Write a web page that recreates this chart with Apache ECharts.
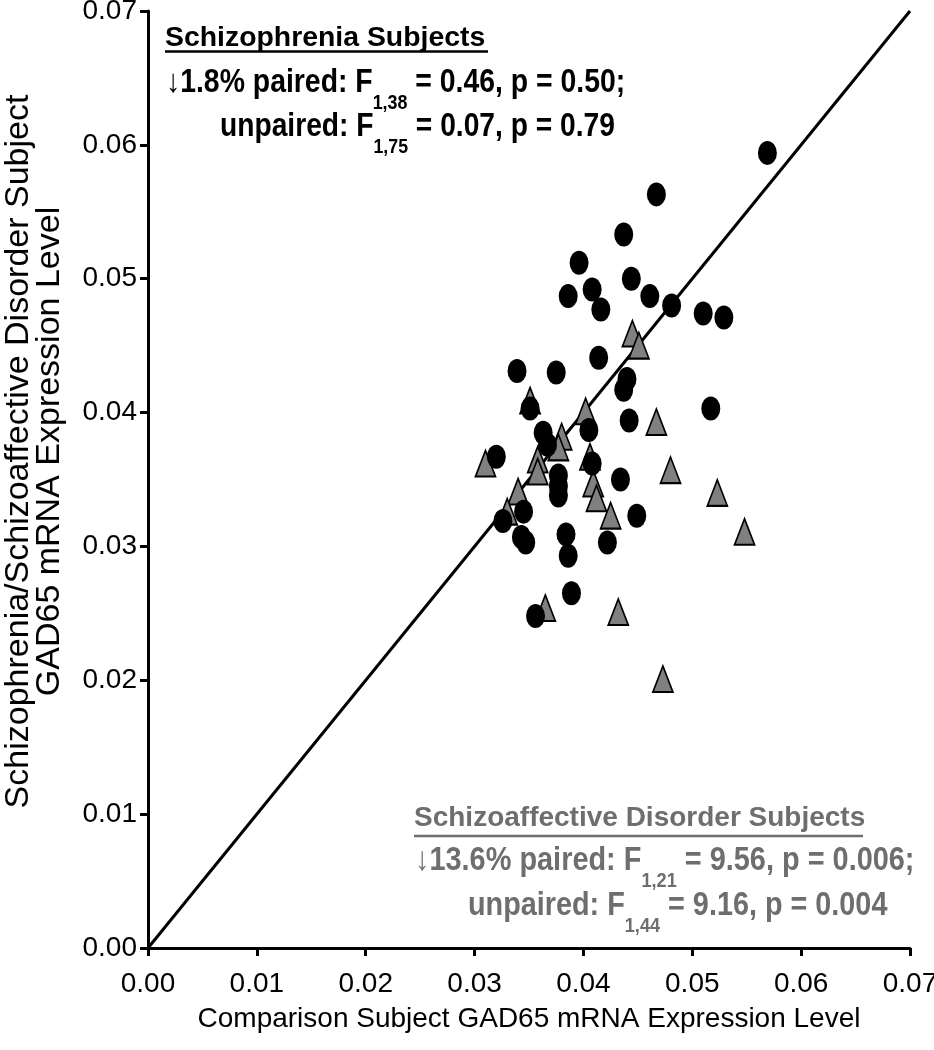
<!DOCTYPE html>
<html><head><meta charset="utf-8">
<script src="https://cdn.jsdelivr.net/npm/echarts@6/dist/echarts.min.js"></script>
<style>html,body{margin:0;padding:0;background:#fff}#chart{width:934px;height:1050px}</style>
</head><body><div id="chart"></div>
<script>
// Schizophrenia subjects: [comparison level, patient level]
const schizophreniaPairs = [
  [0.0569,0.0594],[0.0467,0.0563],[0.0437,0.0533],[0.0396,0.0512],[0.0386,0.0487],
  [0.0408,0.0492],[0.0416,0.0477],[0.0444,0.0500],[0.0461,0.0487],[0.0481,0.0480],
  [0.0510,0.0474],[0.0529,0.0471],[0.0414,0.0441],[0.0339,0.0431],[0.0375,0.0430],
  [0.0440,0.0425],[0.0437,0.0417],[0.0351,0.0403],[0.0442,0.0394],[0.0517,0.0403],
  [0.0363,0.0385],[0.0367,0.0376],[0.0405,0.0387],[0.0320,0.0367],[0.0408,0.0362],
  [0.0377,0.0353],[0.0377,0.0345],[0.0377,0.0338],[0.0434,0.0350],[0.0345,0.0326],
  [0.0326,0.0319],[0.0449,0.0323],[0.0343,0.0307],[0.0347,0.0303],[0.0384,0.0309],
  [0.0422,0.0303],[0.0386,0.0293],[0.0389,0.0265],[0.0356,0.0248]
];
// Schizoaffective disorder subjects: [comparison level, patient level]
const schizoaffectivePairs = [
  [0.0445,0.0459],[0.0451,0.0450],[0.0351,0.0409],[0.0402,0.0401],[0.0467,0.0393],
  [0.0380,0.0382],[0.0377,0.0374],[0.0310,0.0362],[0.0358,0.0365],[0.0358,0.0356],
  [0.0406,0.0367],[0.0409,0.0347],[0.0412,0.0336],[0.0480,0.0357],[0.0523,0.0340],
  [0.0340,0.0341],[0.0330,0.0326],[0.0425,0.0323],[0.0548,0.0311],[0.0365,0.0254],
  [0.0432,0.0251],[0.0473,0.0201]
];
// line of identity
const identityLine = [[0,0],[0.07,0.07]];
const tickLabels = ['0.00','0.01','0.02','0.03','0.04','0.05','0.06','0.07'];
const xTitle = 'Comparison Subject GAD65 mRNA Expression Level';
const yTitle = 'Schizophrenia/Schizoaffective Disorder Subject\nGAD65 mRNA Expression Level';

const sans = "'Liberation Sans',Arial,sans-serif";

function richStyle(color, fs){
  return {
    m:{fontSize:fs,fontWeight:'bold',fontFamily:sans,fill:color,lineHeight:53},
    s:{fontSize:fs*0.63,fontWeight:'bold',fontFamily:sans,fill:color,lineHeight:18,verticalAlign:'bottom'}
  };
}
function textLine(x, centerY, text, color, fs, sy){
  return {type:'text', x:x, y:centerY, scaleY:sy, z:100,
    style:{text:text, rich:richStyle(color, fs), align:'left', verticalAlign:'middle',
      textAlign:'left', textVerticalAlign:'middle'}};
}
const grey = '#6e6e6e';

const chart = echarts.init(document.getElementById('chart'), null, {renderer:'canvas'});
const axisCommon = {
  type:'value', min:0, max:0.07, interval:0.01,
  axisLine:{show:true,lineStyle:{color:'#000',width:3}},
  axisTick:{show:true,length:8,lineStyle:{color:'#000',width:3}},
  splitLine:{show:false},
};
chart.setOption({
  animation:false,
  backgroundColor:'#fff',
  grid:{left:148,right:24,top:11,bottom:102,containLabel:false,outerBoundsMode:'none'},
  xAxis:Object.assign({}, axisCommon, {
    axisLabel:{margin:22,fontSize:28,fontFamily:sans,color:'#000',
      formatter:(v)=>tickLabels[Math.round(v*100)]},
    name:xTitle, nameLocation:'middle', nameGap:52,
    nameTextStyle:{fontSize:28,fontFamily:sans,color:'#000',lineHeight:32}
  }),
  yAxis:Object.assign({}, axisCommon, {
    axisLabel:{margin:11,fontSize:28,fontFamily:sans,color:'#000',
      formatter:(v)=>tickLabels[Math.round(v*100)]},
    name:yTitle, nameLocation:'middle', nameGap:83, nameRotate:90,
    nameTextStyle:{fontSize:34,fontFamily:sans,color:'#000',lineHeight:31,padding:[0,0,0,56]}
  }),
  series:[
    {type:'line', data:identityLine, symbol:'none', z:1,
      lineStyle:{color:'#000',width:3}},
    {type:'scatter', name:'Schizoaffective Disorder Subjects', data:schizoaffectivePairs,
      symbol:'triangle', symbolSize:[20,26], z:2,
      itemStyle:{color:'#808080',borderColor:'#000',borderWidth:1.8,opacity:1}},
    {type:'scatter', name:'Schizophrenia Subjects', data:schizophreniaPairs,
      symbol:'circle', symbolSize:[19,24], z:3,
      itemStyle:{color:'#000',borderColor:'#000',borderWidth:0,opacity:1}}
  ],
  graphic:[
    textLine(165, 38, '{m|Schizophrenia Subjects}', '#000', 28.4, 1.0),
    {type:'line', z:100, shape:{x1:165,y1:51.5,x2:488,y2:51.5}, style:{stroke:'#000',lineWidth:2.7}},
    textLine(166, 83, '{m|↓1.8% paired: F}{s|1,38}{m| = 0.46, p = 0.50;}', '#000', 28.4, 1.15),
    textLine(220, 127, '{m|unpaired: F}{s|1,75}{m| = 0.07, p = 0.79}', '#000', 28.2, 1.15),
    textLine(414, 818, '{m|Schizoaffective Disorder Subjects}', grey, 28, 1.0),
    {type:'line', z:100, shape:{x1:414,y1:836,x2:863,y2:836}, style:{stroke:grey,lineWidth:2.7}},
    textLine(415, 861, '{m|↓13.6% paired: F}{s|1,21}{m| = 9.56, p = 0.006;}', grey, 28.9, 1.15),
    textLine(468, 906, '{m|unpaired: F}{s|1,44}{m| = 9.16, p = 0.004}', grey, 28.8, 1.15)
  ]
});
</script></body></html>
